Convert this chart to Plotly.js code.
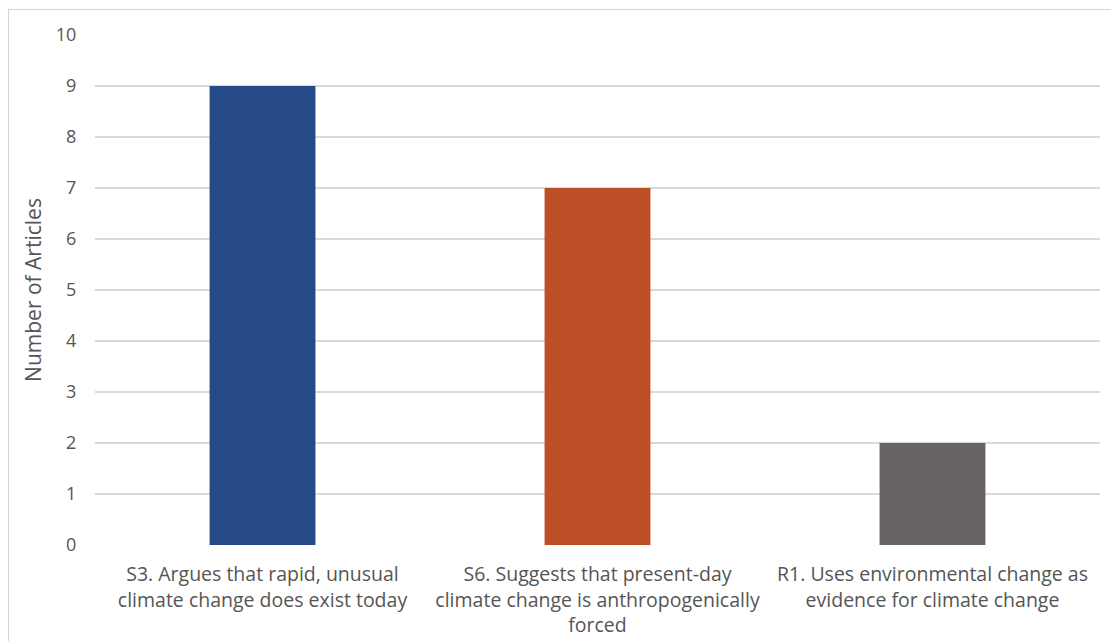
<!DOCTYPE html>
<html>
<head>
<meta charset="utf-8">
<script src="https://cdn.plot.ly/plotly-3.0.1.min.js"></script>
<style>
  html, body { margin: 0; padding: 0; background: #ffffff; }
  #wrap { position: relative; width: 1111px; height: 641px; overflow: hidden; }
  #frame { position: absolute; left: 8px; top: 9px; width: 1200px; height: 700px;
           border: 1px solid #d4d4d4; box-sizing: border-box; pointer-events: none; }
  #chart { position: absolute; left: 0; top: 0; width: 1111px; height: 641px; }
</style>
</head>
<body>
<div id="wrap">
  <div id="chart"></div>
  <div id="frame"></div>
</div>
<script>
// Article counts per coded argument
const categories = [
  "S3. Argues that rapid, unusual<br>climate change does exist today",
  "S6. Suggests that present-day<br>climate change is anthropogenically<br>forced",
  "R1. Uses environmental change as<br>evidence for climate change"
];
const articleCounts = [9, 7, 2];
const barColors = ["#254a87", "#bd4f27", "#686465"];
const yTicks = [0, 1, 2, 3, 4, 5, 6, 7, 8, 9, 10];

const fontFamily = "'Open Sans', 'Noto Sans', sans-serif";

const data = [{
  type: "bar",
  x: categories,
  y: articleCounts,
  marker: { color: barColors, line: { width: 0 } },
  hoverinfo: "none"
}];

const layout = {
  width: 1111,
  height: 641,
  margin: { l: 95, r: 11, t: 35, b: 96 },
  paper_bgcolor: "#ffffff",
  plot_bgcolor: "#ffffff",
  bargap: 0.684,
  showlegend: false,
  font: { family: fontFamily, color: "#555555", size: 18 },
  xaxis: {
    type: "category",
    showgrid: false,
    zeroline: false,
    showline: false,
    ticks: "outside",
    ticklen: 12,
    tickcolor: "rgba(0,0,0,0)",
    tickfont: { size: 19.5, color: "#555555" },
    automargin: false
  },
  yaxis: {
    range: [0, 10],
    tickvals: yTicks,
    ticktext: yTicks.map(String),
    showgrid: true,
    gridcolor: "#d9d9d9",
    gridwidth: 1.5,
    zeroline: false,
    showline: false,
    ticks: "outside",
    ticklen: 14,
    tickcolor: "rgba(0,0,0,0)",
    tickfont: { size: 18, color: "#555555" },
    title: { text: "Number of Articles", font: { size: 21, color: "#555555" }, standoff: 8 },
    automargin: false
  }
};

Plotly.newPlot("chart", data, layout, { displayModeBar: false, staticPlot: true });
</script>
</body>
</html>
